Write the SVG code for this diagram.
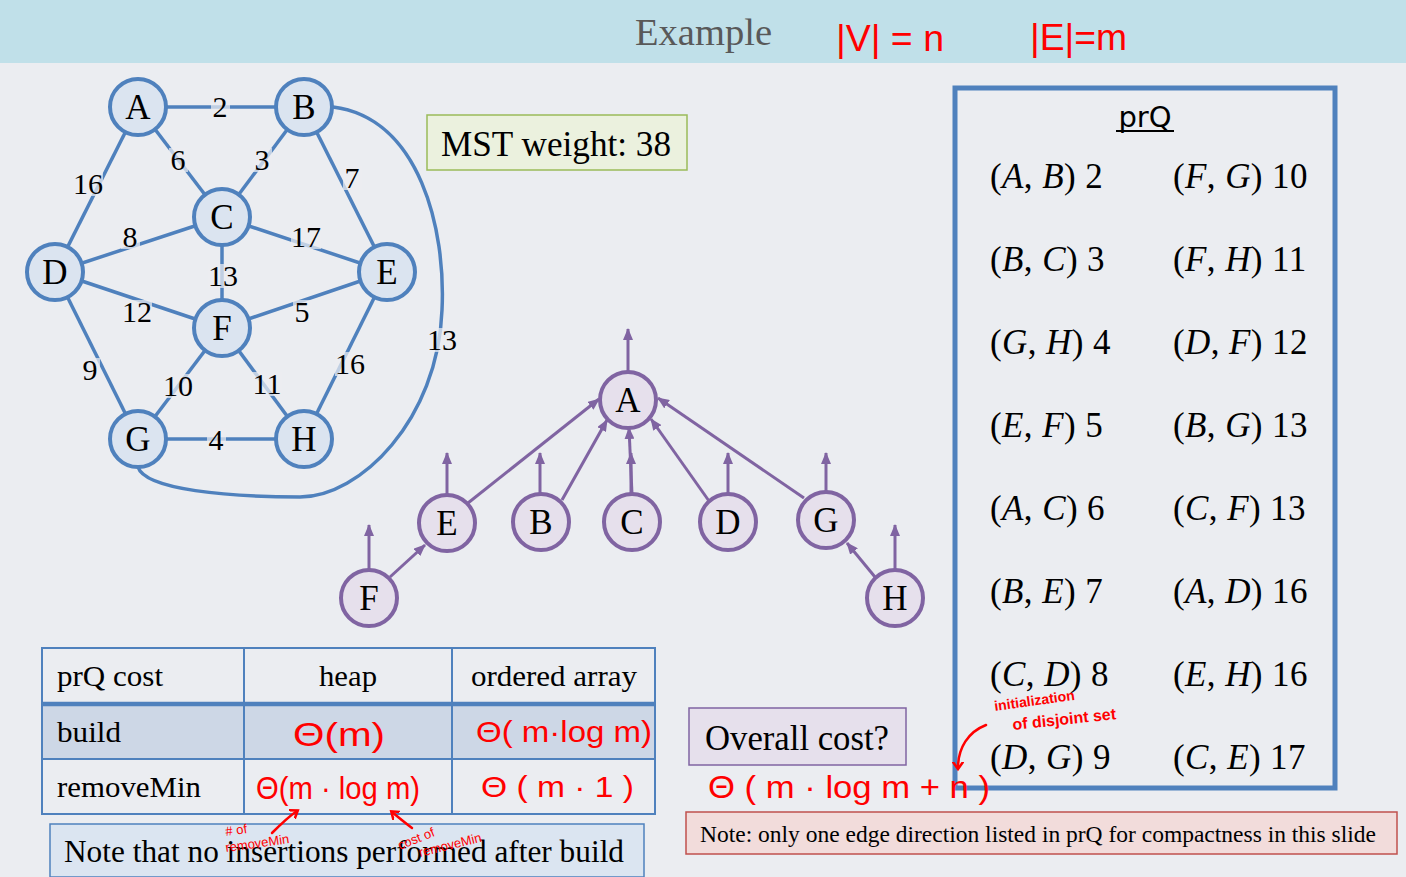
<svg xmlns="http://www.w3.org/2000/svg" width="1406" height="877" viewBox="0 0 1406 877">
<defs>
<style>
.serif{font-family:"Liberation Serif","Times New Roman",serif;fill:#000}
.be{stroke:#4f81bd;stroke-width:3.5;fill:none}
.bn circle{fill:#dbe4f0;stroke:#4f81bd;stroke-width:4}
.pn circle{fill:#e6e0ec;stroke:#8064a2;stroke-width:4}
.nl{font-family:"Liberation Serif","Times New Roman",serif;font-size:35px;text-anchor:middle;fill:#000}
.el{font-family:"Liberation Serif","Times New Roman",serif;font-size:30px;text-anchor:middle;fill:#000}
.elb{fill:#ebedf1;opacity:0.72}
.pe{stroke:#8064a2;stroke-width:3;fill:none;marker-end:url(#pa)}
.hw{fill:#ff0000;font-family:"Liberation Sans",Arial,sans-serif}
.ha{stroke:#ff0000;stroke-width:2.5;fill:none;stroke-linecap:round}
.pq{font-family:"Liberation Serif","Times New Roman",serif;font-size:35px;fill:#000;letter-spacing:0.4px}
.pq tspan.i{font-style:italic}
.tb{stroke:#4f81bd;stroke-width:2;fill:none}
.tt{font-family:"Liberation Serif","Times New Roman",serif;font-size:30px;fill:#000}
</style>
<marker id="pa" markerUnits="userSpaceOnUse" markerWidth="12" markerHeight="10" refX="11" refY="5" orient="auto">
<path d="M0,0 L12,5 L0,10 z" fill="#8064a2"/>
</marker>
<marker id="ra" markerUnits="userSpaceOnUse" markerWidth="12" markerHeight="12" refX="6" refY="6" orient="auto">
<path d="M0,1 L7,6 L0,11" fill="none" stroke="#ff0000" stroke-width="2.5" stroke-linecap="round"/>
</marker>
</defs>

<rect x="0" y="0" width="1406" height="877" fill="#ebedf1"/>
<rect x="0" y="0" width="1406" height="63" fill="#c0e0e9"/>
<text x="635" y="45" font-family="'Liberation Serif','Times New Roman',serif" font-size="38" fill="#595959" textLength="137" lengthAdjust="spacingAndGlyphs">Example</text>
<text class="hw" x="836" y="51" font-size="36" textLength="108" lengthAdjust="spacingAndGlyphs">|V| = n</text>
<text class="hw" x="1030" y="50" font-size="36" textLength="97" lengthAdjust="spacingAndGlyphs">|E|=m</text>

<!-- graph connectors -->
<g id="graph-edges">
<line class="be" x1="138" y1="107" x2="304" y2="107"/>
<line class="be" x1="138" y1="107" x2="222" y2="217"/>
<line class="be" x1="138" y1="107" x2="55" y2="272"/>
<line class="be" x1="304" y1="107" x2="222" y2="217"/>
<line class="be" x1="304" y1="107" x2="387" y2="272"/>
<line class="be" x1="55" y1="272" x2="222" y2="217"/>
<line class="be" x1="222" y1="217" x2="387" y2="272"/>
<line class="be" x1="222" y1="217" x2="222" y2="328"/>
<line class="be" x1="55" y1="272" x2="222" y2="328"/>
<line class="be" x1="55" y1="272" x2="138" y2="439"/>
<line class="be" x1="222" y1="328" x2="387" y2="272"/>
<line class="be" x1="387" y1="272" x2="304" y2="439"/>
<line class="be" x1="222" y1="328" x2="138" y2="439"/>
<line class="be" x1="222" y1="328" x2="304" y2="439"/>
<line class="be" x1="138" y1="439" x2="304" y2="439"/>
<path class="be" d="M333,107 C420,118 446,230 442,310 C438,420 360,497 300,497 C230,497 145,490 138,467"/>
<g id="edge-labels">
<rect class="elb" x="211" y="95" width="19" height="24"/><text class="el" x="220" y="117">2</text>
<rect class="elb" x="169" y="148" width="19" height="24"/><text class="el" x="178" y="170">6</text>
<rect class="elb" x="253" y="148" width="19" height="24"/><text class="el" x="262" y="170">3</text>
<rect class="elb" x="73" y="172" width="30" height="24"/><text class="el" x="88" y="194">16</text>
<rect class="elb" x="343" y="166" width="19" height="24"/><text class="el" x="352" y="188">7</text>
<rect class="elb" x="121" y="225" width="19" height="24"/><text class="el" x="130" y="247">8</text>
<rect class="elb" x="291" y="225" width="30" height="24"/><text class="el" x="306" y="247">17</text>
<rect class="elb" x="208" y="264" width="30" height="24"/><text class="el" x="223" y="286">13</text>
<rect class="elb" x="122" y="300" width="30" height="24"/><text class="el" x="137" y="322">12</text>
<rect class="elb" x="293" y="300" width="19" height="24"/><text class="el" x="302" y="322">5</text>
<rect class="elb" x="81" y="358" width="19" height="24"/><text class="el" x="90" y="380">9</text>
<rect class="elb" x="163" y="374" width="30" height="24"/><text class="el" x="178" y="396">10</text>
<rect class="elb" x="252" y="372" width="30" height="24"/><text class="el" x="267" y="394">11</text>
<rect class="elb" x="335" y="352" width="30" height="24"/><text class="el" x="350" y="374">16</text>
<rect class="elb" x="207" y="428" width="19" height="24"/><text class="el" x="216" y="450">4</text>
<rect class="elb" x="427" y="328" width="30" height="24"/><text class="el" x="442" y="350">13</text>
</g>
</g>

<g id="gA" class="bn"><circle cx="138" cy="107" r="28"/><text class="nl" x="138" y="119">A</text></g>
<g id="gB" class="bn"><circle cx="304" cy="107" r="28"/><text class="nl" x="304" y="119">B</text></g>
<g id="gC" class="bn"><circle cx="222" cy="217" r="28"/><text class="nl" x="222" y="229">C</text></g>
<g id="gD" class="bn"><circle cx="55" cy="272" r="28"/><text class="nl" x="55" y="284">D</text></g>
<g id="gE" class="bn"><circle cx="387" cy="272" r="28"/><text class="nl" x="387" y="284">E</text></g>
<g id="gF" class="bn"><circle cx="222" cy="328" r="28"/><text class="nl" x="222" y="340">F</text></g>
<g id="gG" class="bn"><circle cx="138" cy="439" r="28"/><text class="nl" x="138" y="451">G</text></g>
<g id="gH" class="bn"><circle cx="304" cy="439" r="28"/><text class="nl" x="304" y="451">H</text></g>

<g id="mst-weight">
<rect x="427" y="115" width="260" height="55" fill="#ebf1de" stroke="#9bbb59" stroke-width="1.5"/>
<text class="serif" x="441" y="156" font-size="35" textLength="230" lengthAdjust="spacingAndGlyphs">MST weight: 38</text>
</g>

<!-- disjoint set forest -->
<g id="tree-edges">
<line class="pe" x1="628" y1="371" x2="628" y2="329"/>
<line class="pe" x1="447" y1="494" x2="447" y2="453"/>
<line class="pe" x1="540" y1="494" x2="540" y2="453"/>
<line class="pe" x1="631" y1="494" x2="631" y2="453"/>
<line class="pe" x1="728" y1="494" x2="728" y2="453"/>
<line class="pe" x1="826" y1="492" x2="826" y2="453"/>
<line class="pe" x1="369" y1="569" x2="369" y2="525"/>
<line class="pe" x1="895" y1="569" x2="895" y2="525"/>
<line class="pe" x1="468" y1="503" x2="599" y2="399"/>
<line class="pe" x1="562" y1="500" x2="607" y2="420"/>
<line class="pe" x1="632" y1="494" x2="629" y2="428"/>
<line class="pe" x1="709" y1="501" x2="651" y2="419"/>
<line class="pe" x1="804" y1="498" x2="658" y2="398"/>
<line class="pe" x1="390" y1="577" x2="425" y2="545"/>
<line class="pe" x1="875" y1="577" x2="847" y2="543"/>
</g>
<g id="tA" class="pn"><circle cx="628" cy="400" r="28"/><text class="nl" x="628" y="412">A</text></g>
<g id="tE" class="pn"><circle cx="447" cy="523" r="28"/><text class="nl" x="447" y="535">E</text></g>
<g id="tB" class="pn"><circle cx="541" cy="522" r="28"/><text class="nl" x="541" y="534">B</text></g>
<g id="tC" class="pn"><circle cx="632" cy="522" r="28"/><text class="nl" x="632" y="534">C</text></g>
<g id="tD" class="pn"><circle cx="728" cy="522" r="28"/><text class="nl" x="728" y="534">D</text></g>
<g id="tG" class="pn"><circle cx="826" cy="520" r="28"/><text class="nl" x="826" y="532">G</text></g>
<g id="tF" class="pn"><circle cx="369" cy="598" r="28"/><text class="nl" x="369" y="610">F</text></g>
<g id="tH" class="pn"><circle cx="895" cy="598" r="28"/><text class="nl" x="895" y="610">H</text></g>

<!-- prQ box -->
<g id="prq">
<rect x="955" y="88" width="380" height="700" fill="none" stroke="#4f81bd" stroke-width="5"/>
<text x="1145" y="127" font-family="'DejaVu Sans','Liberation Sans',sans-serif" font-size="29" text-anchor="middle" fill="#000">prQ</text>
<line x1="1116" y1="131" x2="1174" y2="131" stroke="#000" stroke-width="2"/>
<text class="pq" x="990" y="188">(<tspan class="i">A</tspan>, <tspan class="i">B</tspan>) 2</text>
<text class="pq" x="990" y="271">(<tspan class="i">B</tspan>, <tspan class="i">C</tspan>) 3</text>
<text class="pq" x="990" y="354">(<tspan class="i">G</tspan>, <tspan class="i">H</tspan>) 4</text>
<text class="pq" x="990" y="437">(<tspan class="i">E</tspan>, <tspan class="i">F</tspan>) 5</text>
<text class="pq" x="990" y="520">(<tspan class="i">A</tspan>, <tspan class="i">C</tspan>) 6</text>
<text class="pq" x="990" y="603">(<tspan class="i">B</tspan>, <tspan class="i">E</tspan>) 7</text>
<text class="pq" x="990" y="686">(<tspan class="i">C</tspan>, <tspan class="i">D</tspan>) 8</text>
<text class="pq" x="990" y="769">(<tspan class="i">D</tspan>, <tspan class="i">G</tspan>) 9</text>
<text class="pq" x="1173" y="188">(<tspan class="i">F</tspan>, <tspan class="i">G</tspan>) 10</text>
<text class="pq" x="1173" y="271">(<tspan class="i">F</tspan>, <tspan class="i">H</tspan>) 11</text>
<text class="pq" x="1173" y="354">(<tspan class="i">D</tspan>, <tspan class="i">F</tspan>) 12</text>
<text class="pq" x="1173" y="437">(<tspan class="i">B</tspan>, <tspan class="i">G</tspan>) 13</text>
<text class="pq" x="1173" y="520">(<tspan class="i">C</tspan>, <tspan class="i">F</tspan>) 13</text>
<text class="pq" x="1173" y="603">(<tspan class="i">A</tspan>, <tspan class="i">D</tspan>) 16</text>
<text class="pq" x="1173" y="686">(<tspan class="i">E</tspan>, <tspan class="i">H</tspan>) 16</text>
<text class="pq" x="1173" y="769">(<tspan class="i">C</tspan>, <tspan class="i">E</tspan>) 17</text>
</g>

<!-- cost table -->
<g id="cost-table">
<rect x="42" y="703" width="613" height="56" fill="#cdd7e6"/>
<rect class="tb" x="42" y="648" width="613" height="166"/>
<line class="tb" x1="42" y1="759" x2="655" y2="759"/>
<line class="tb" x1="244" y1="648" x2="244" y2="814"/>
<line class="tb" x1="452" y1="648" x2="452" y2="814"/>
<line x1="42" y1="704" x2="655" y2="704" stroke="#4f81bd" stroke-width="4.5"/>
<text class="tt" x="57" y="686" textLength="106" lengthAdjust="spacingAndGlyphs">prQ cost</text>
<text class="tt" x="319" y="686" textLength="58" lengthAdjust="spacingAndGlyphs">heap</text>
<text class="tt" x="471" y="686" textLength="166" lengthAdjust="spacingAndGlyphs">ordered array</text>
<text class="tt" x="57" y="742" textLength="64" lengthAdjust="spacingAndGlyphs">build</text>
<text class="tt" x="57" y="797" textLength="144" lengthAdjust="spacingAndGlyphs">removeMin</text>
<text class="hw" x="293" y="746" font-size="34" textLength="92" lengthAdjust="spacingAndGlyphs">Θ(m)</text>
<text class="hw" x="476" y="742" font-size="30" textLength="176" lengthAdjust="spacingAndGlyphs">Θ( m·log m)</text>
<text class="hw" x="256" y="799" font-size="32" textLength="164" lengthAdjust="spacingAndGlyphs">Θ(m · log m)</text>
<text class="hw" x="481" y="797" font-size="30" textLength="153" lengthAdjust="spacingAndGlyphs">Θ ( m · 1 )</text>
</g>

<g id="note-left">
<rect x="50" y="824" width="594" height="53" fill="#dbe5f1" stroke="#4f81bd" stroke-width="1.5"/>
<text class="serif" x="64" y="862" font-size="31" textLength="560" lengthAdjust="spacingAndGlyphs">Note that no insertions performed after build</text>
</g>
<g id="annot-left">
<text class="hw" font-size="13" transform="translate(226,836) rotate(-8)">#  of</text>
<text class="hw" font-size="13" transform="translate(226,852) rotate(-8)">removeMin</text>
<path class="ha" d="M272,833 C280,825 288,817 297,811" marker-end="url(#ra)"/>
<text class="hw" font-size="13" transform="translate(400,850) rotate(-22)">cost of</text>
<text class="hw" font-size="13" transform="translate(420,857) rotate(-14)">removeMin</text>
<path class="ha" d="M412,828 C404,822 398,817 392,812" marker-end="url(#ra)"/>
</g>

<g id="overall">
<rect x="689" y="708" width="217" height="57" fill="#e6e0ec" stroke="#8064a2" stroke-width="1.5"/>
<text class="serif" x="705" y="750" font-size="35" textLength="184" lengthAdjust="spacingAndGlyphs">Overall cost?</text>
<text class="hw" x="708" y="798" font-size="32" textLength="282" lengthAdjust="spacingAndGlyphs">Θ ( m · log m + n )</text>
<text class="hw" font-size="14" transform="translate(995,711) rotate(-8)" font-weight="bold">initialization</text>
<text class="hw" font-size="16" transform="translate(1013,730) rotate(-6)" font-weight="bold">of disjoint set</text>
<path class="ha" d="M986,725 C968,732 958,748 958,768" marker-end="url(#ra)"/>
</g>

<g id="note-right">
<rect x="686" y="812" width="711" height="42" fill="#f2dcdb" stroke="#c0504d" stroke-width="1.5"/>
<text class="serif" x="700" y="842" font-size="23.5" textLength="676" lengthAdjust="spacingAndGlyphs">Note: only one edge direction listed in prQ for compactness in this slide</text>
</g>
</svg>
